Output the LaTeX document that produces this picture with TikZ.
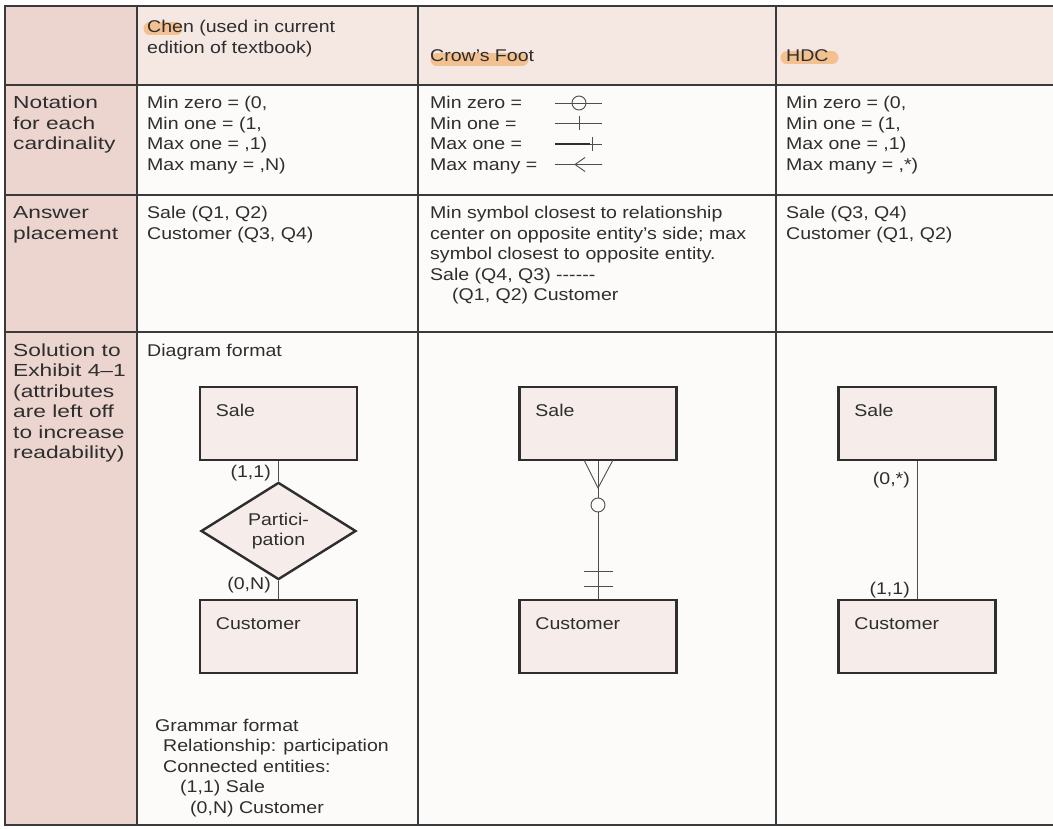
\documentclass[tikz,border=0pt]{standalone}
\usepackage{fontspec}
\setmainfont{Liberation Sans}[FakeStretch=1.15]
\newfontfamily\sidefont{Liberation Sans}[FakeStretch=1.3]
\usetikzlibrary{shapes.geometric,calc}
\definecolor{ink}{HTML}{2E2E2E}
\definecolor{rule}{HTML}{3A3A3A}
\definecolor{sidepink}{HTML}{ECD5CE}
\definecolor{headpink}{HTML}{F5E7E2}
\definecolor{paper}{HTML}{FCFBFA}
\definecolor{entityfill}{HTML}{F6ECE9}
\definecolor{marker}{HTML}{F3A04E}
\begin{document}
\begin{tikzpicture}[x=1pt,y=-1pt,
  every node/.style={font=\fontsize{17}{20.5}\selectfont, text=ink},
  txt/.style={anchor=base west, inner sep=0pt},
  side/.style={anchor=base west, inner sep=0pt, font=\sidefont\fontsize{17.5}{20.5}\selectfont},
  rtxt/.style={anchor=base east, inner sep=0pt},
  entity/.style={draw=ink, line width=2.6pt, fill=entityfill, minimum width=157pt, minimum height=73pt, inner sep=0pt},
  rel/.style={diamond, draw=ink, line width=2.4pt, fill=entityfill, minimum width=155pt, minimum height=81pt, inner sep=0pt, align=center},
  link/.style={draw=ink!85, line width=0.9pt},
  sym/.style={draw=ink!85, line width=0.9pt},
  hl/.style={line width=13pt, line cap=round, draw=marker, opacity=0.55},
  gridline/.style={draw=rule, line width=1.3pt},
  frame/.style={draw=rule, line width=2.4pt}]
\useasboundingbox (0,0) rectangle (1053,829);

% table backgrounds
\fill[paper] (5,6) rectangle (1053,825);
\fill[sidepink] (5,6) rectangle (137,825);
\fill[headpink] (137,6) rectangle (1053,85);

% highlighter marks on the notation names
\draw[hl] (150,29) -- (176,29);
\draw[hl] (437,60) -- (522,60);
\draw[hl] (787,58) -- (832,58);

% grid
\foreach \yy in {85,195,332} \draw[gridline] (5,\yy) -- (1053,\yy);
\foreach \xx in {137,418,776} \draw[gridline] (\xx,6) -- (\xx,825);
\draw[frame] (1053,6) -- (5,6) -- (5,825) -- (1053,825);

% header row
\node[txt] (h1a) at (147,33) {Chen (used in current};
\node[txt] (h1b) at (147,53.5) {edition of textbook)};
\node[txt] (h2) at (430,62) {Crow’s Foot};
\node[txt] (h3) at (786,62) {HDC};

% notation row
\foreach \t [count=\i from 0] in {{Notation},{for each},{cardinality}}
  \node[side] (n0-\i) at (13,109+20.5*\i) {\t};
\foreach \t [count=\i from 0] in {{Min zero = (0,},{Min one = (1,},{Max one = ,1)},{Max many = ,N)}}
  \node[txt] (n1-\i) at (147,109+20.5*\i) {\t};
\foreach \t [count=\i from 0] in {{Min zero =},{Min one =},{Max one =},{Max many =}}
  \node[txt] (n2-\i) at (430,109+20.5*\i) {\t};
\foreach \t [count=\i from 0] in {{Min zero = (0,},{Min one = (1,},{Max one = ,1)},{Max many = ,*)}}
  \node[txt] (n3-\i) at (786,109+20.5*\i) {\t};

% crow's foot symbols
\draw[sym] (555,103) -- (602,103);
\draw[sym] (579,103) circle (7);
\draw[sym] (555,123.5) -- (602,123.5) (579,116.5) -- (579,130.5);
\draw[sym] (555,144) -- (602,144) (592,137) -- (592,151);
\draw[draw=ink, line width=1.5pt] (555,144) -- (590,144);
\draw[sym] (555,164.5) -- (602,164.5) (585,157.5) -- (575,164.5) -- (585,171.5);

% answer placement row
\foreach \t [count=\i from 0] in {{Answer},{placement}}
  \node[side] (a0-\i) at (13,219+20.5*\i) {\t};
\foreach \t [count=\i from 0] in {{Sale (Q1, Q2)},{Customer (Q3, Q4)}}
  \node[txt] (a1-\i) at (147,219+20.5*\i) {\t};
\foreach \t [count=\i from 0] in {{Min symbol closest to relationship},{center on opposite entity’s side; max},{symbol closest to opposite entity.},{Sale (Q4, Q3) -{}-{}-{}-{}-{}-}}
  \node[txt] (a2-\i) at (430,219+20.5*\i) {\t};
\node[txt] (a2-4) at (452,301) {(Q1, Q2) Customer};
\foreach \t [count=\i from 0] in {{Sale (Q3, Q4)},{Customer (Q1, Q2)}}
  \node[txt] (a3-\i) at (786,219+20.5*\i) {\t};

% solution row, first column
\foreach \t [count=\i from 0] in {{Solution to},{Exhibit 4–1},{(attributes},{are left off},{to increase},{readability)}}
  \node[side] (s0-\i) at (13,356+20.5*\i) {\t};
\node[txt] (dfmt) at (147,356) {Diagram format};

% Chen diagram
\node[entity] (sale1) at (278.5,423.5) {};
\node[txt] (sale1t) at ($(sale1.north west)+(17,31)$) {Sale};
\node[rel] (rel1) at (278.5,531) {\raisebox{-3pt}{Partici-}\\\raisebox{-3pt}{pation}};
\node[entity] (cust1) at (278.5,636.5) {};
\node[txt] (cust1t) at ($(cust1.north west)+(17,31)$) {Customer};
\draw[link] (sale1) -- (rel1);
\draw[link] (rel1) -- (cust1);
\node[rtxt] (c11) at (271,477) {(1,1)};
\node[rtxt] (c0n) at (271,589) {(0,N)};

% grammar format
\node[txt] (g0) at (155,731) {Grammar format};
\node[txt] (g1) at (163,751.5) {Relationship: participation};
\node[txt] (g2) at (163,772) {Connected entities:};
\node[txt] (g3) at (180,792.5) {(1,1) Sale};
\node[txt] (g4) at (190,813) {(0,N) Customer};

% Crow's Foot diagram
\node[entity] (sale2) at (598,423.5) {};
\node[txt] (sale2t) at ($(sale2.north west)+(17,31)$) {Sale};
\node[entity] (cust2) at (598,636.5) {};
\node[txt] (cust2t) at ($(cust2.north west)+(17,31)$) {Customer};
\draw[link] (sale2) -- (cust2);
\coordinate (apex) at (598,488);
\draw[link] (584,460) -- (apex) -- (613,460);
\draw[link, fill=paper] (598,505) circle (7);
\draw[link] (584,571) -- (613,571) (584,586) -- (613,586);

% HDC diagram
\node[entity] (sale3) at (917,423.5) {};
\node[txt] (sale3t) at ($(sale3.north west)+(17,31)$) {Sale};
\node[entity] (cust3) at (917,636.5) {};
\node[txt] (cust3t) at ($(cust3.north west)+(17,31)$) {Customer};
\draw[link] (sale3) -- (cust3);
\node[rtxt] (c0s) at (910,484) {(0,*)};
\node[rtxt] (c11b) at (910,594) {(1,1)};
\end{tikzpicture}
\end{document}
